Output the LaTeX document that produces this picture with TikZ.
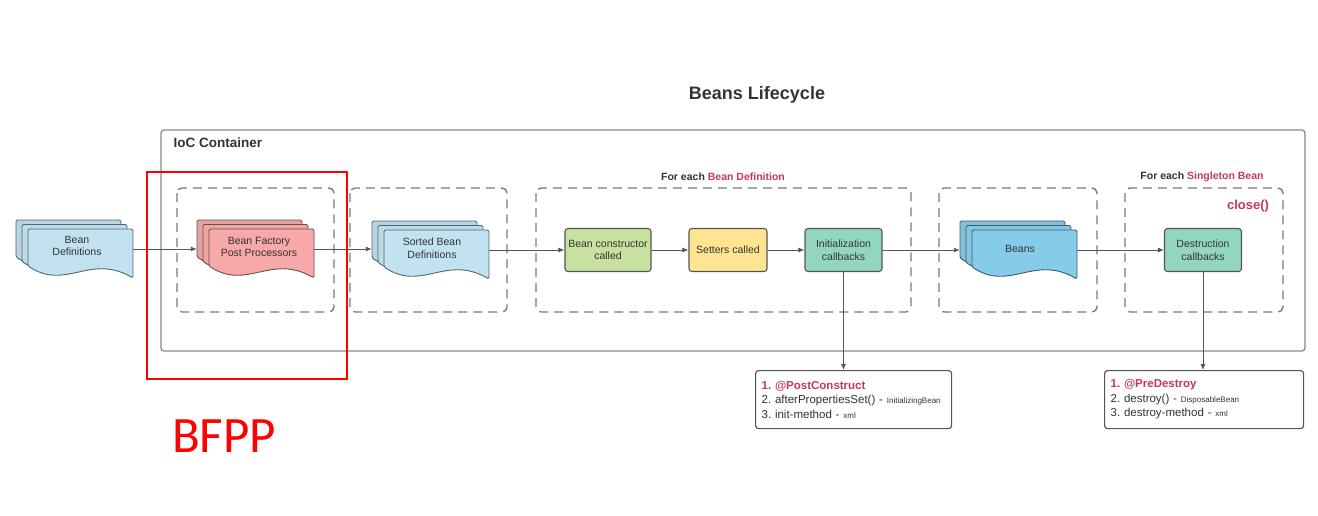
\documentclass[tikz,border=0pt]{standalone}
\usepackage{fontspec}
\setmainfont{Liberation Sans}
\newfontfamily\bfppfont{Carlito}
\usetikzlibrary{arrows.meta}
\frenchspacing
\definecolor{linegray}{HTML}{555555}
\definecolor{dashgray}{HTML}{7A7A7A}
\definecolor{contgray}{HTML}{8A8A8A}
\definecolor{txt}{HTML}{333333}
\definecolor{accent}{HTML}{C4385E}
\definecolor{docblue}{HTML}{C2E2F2}
\definecolor{docpink}{HTML}{F7A8A8}
\definecolor{beanblue}{HTML}{86CBEA}
\definecolor{ctorgreen}{HTML}{C8E19E}
\definecolor{setyellow}{HTML}{FFE491}
\definecolor{cbteal}{HTML}{93D6BE}
\tikzset{
  sheetshape/.style={draw=#1!45!black, fill=#1, line width=0.9pt, rounded corners=1.5pt},
  proc/.style={draw=linegray, line width=1.1pt, rounded corners=3pt, minimum height=43pt,
    align=center, font=\fontsize{10.5}{12.5}\selectfont, text=txt, inner sep=2pt},
  flow/.style={draw=linegray, line width=0.9pt, -{Latex[length=6pt,width=5pt]}},
  dashbox/.style={draw=dashgray, line width=1.4pt, dash pattern=on 9pt off 6pt, rounded corners=5pt},
  container/.style={draw=contgray, line width=1.3pt, rounded corners=3pt},
  listbox/.style={draw=linegray, line width=1.2pt, rounded corners=3pt, fill=white, anchor=north west,
    align=left, text=txt, font=\fontsize{11.5}{14.5}\selectfont, inner xsep=6pt, minimum height=58pt},
  stackanchor/.style={inner sep=0pt, minimum width=117pt, minimum height=58pt},
  doctext/.style={align=center, text=txt, font=\fontsize{10.5}{12.5}\selectfont},
  grouplabel/.style={text=txt, font=\bfseries\fontsize{10.5}{12.5}\selectfont}
}
\newcommand\sheet[4]{%
  \draw[sheetshape=#3, fill=#4] (#1,#2+37) -- (#1,#2) -- (#1+105,#2) -- (#1+105,#2+49)
    .. controls (#1+62,#2+24) and (#1+38,#2+62) .. (#1,#2+37) -- cycle;}
\newcommand\docstack[3]{\sheet{#1}{#2}{#3}{#3!85!gray}\sheet{#1+6}{#2+4.5}{#3}{#3!92!gray}\sheet{#1+12}{#2+9}{#3}{#3}}
\newcommand\tinytxt[1]{{\fontsize{8}{9}\selectfont #1}}
\begin{document}
\begin{tikzpicture}[x=1pt,y=-1pt]
\useasboundingbox (0,0) rectangle (1318,515);
\fill[white] (0,0) rectangle (1318,515);

% title
\node[text=txt, font=\bfseries\fontsize{18}{21}\selectfont] (title) at (757,95) {Beans Lifecycle};

% IoC container
\draw[container] (161,130) rectangle (1305,351);
\node[anchor=west, text=txt, font=\bfseries\fontsize{13.5}{16}\selectfont] (ioc) at (170,143) {IoC Container};

% dashed groups
\draw[dashbox] (177,188) rectangle (334,312);
\draw[dashbox] (350,188) rectangle (507,312);
\draw[dashbox] (536,188) rectangle (911,312);
\draw[dashbox] (939,188) rectangle (1097,312);
\draw[dashbox] (1125,188) rectangle (1283,312);
\node[grouplabel] (lbl1) at (723,177) {For each \textcolor{accent}{Bean Definition}};
\node[grouplabel] (lbl2) at (1202,177) {For each \textcolor{accent}{Singleton Bean}};
\node[text=accent, font=\bfseries\fontsize{13}{15}\selectfont] (close) at (1248,206) {close()};

% document stacks
\docstack{16}{220}{docblue}
\node[stackanchor] (bd) at (74.5,249) {};
\node[doctext] (bdtext) at (77,246) {Bean\\Definitions};

\docstack{197}{220}{docpink}
\node[stackanchor] (bfpp) at (255.5,249) {};
\node[doctext] (bfpptext) at (259,247) {Bean Factory\\Post Processors};

\docstack{372}{221}{docblue}
\node[stackanchor] (sorted) at (430.5,250) {};
\node[doctext] (sortedtext) at (432,248) {Sorted Bean\\Definitions};

\docstack{960}{221}{beanblue}
\node[stackanchor] (beans) at (1018.5,250) {};
\node[doctext] (beanstext) at (1020,249) {Beans};

% process boxes
\node[proc, fill=ctorgreen, minimum width=86pt] (ctor) at (608,250) {Bean constructor\\called};
\node[proc, fill=setyellow, minimum width=78pt] (setters) at (728,250) {Setters called};
\node[proc, fill=cbteal, minimum width=77pt] (init) at (843.5,250) {Initialization\\callbacks};
\node[proc, fill=cbteal, minimum width=77pt] (destr) at (1203,250) {Destruction\\callbacks};

% callback lists
\node[listbox, text width=184pt] (post) at (755,370) {%
  {\color{accent}\bfseries 1. @PostConstruct}\\
  2. afterPropertiesSet() - \tinytxt{InitializingBean}\\
  3. init-method - \tinytxt{xml}};
\node[listbox, text width=187pt] (pre) at (1104,370) {%
  {\color{accent}\bfseries 1. @PreDestroy}\\
  2. destroy() - \tinytxt{DisposableBean}\\
  3. destroy-method - \tinytxt{xml}};

% connectors
\draw[flow] (bd.east) -- (bfpp.west);
\draw[flow] (bfpp.east) -- (bfpp.east -| sorted.west);
\draw[flow] (sorted.east) -- (ctor.west);
\draw[flow] (ctor.east) -- (setters.west);
\draw[flow] (setters.east) -- (init.west);
\draw[flow] (init.east) -- (beans.west);
\draw[flow] (beans.east) -- (destr.west);
\draw[flow] (init.south) -- (init.south |- post.north);
\draw[flow] (destr.south) -- (destr.south |- pre.north);

% BFPP highlight
\draw[red, line width=2.8pt] (147,172) rectangle (347,379);
\node[anchor=base west, inner sep=0pt, text=red, font=\bfppfont\fontsize{51}{55}\selectfont] (bfpplabel) at (172,452) {BFPP};
\end{tikzpicture}
\end{document}
